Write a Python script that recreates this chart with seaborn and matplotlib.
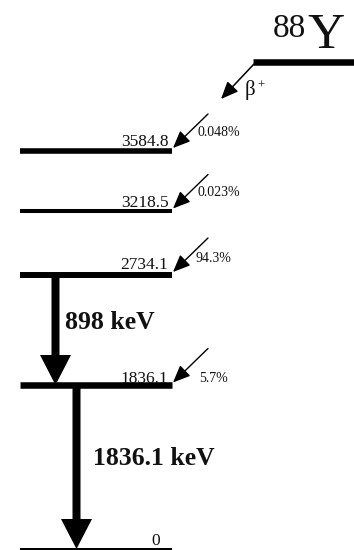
import matplotlib
matplotlib.use("Agg")
import matplotlib.pyplot as plt
import seaborn as sns
import pandas as pd

# ---- decay data: 88Y -> 88Sr (beta+/EC) ----
parent_mass = "88"
parent_symbol = "Y"
decay_mode = "β"
level_energy = [3584.8, 3218.5, 2734.1, 1836.1, 0.0]
level_labels = ["3584.8", "3218.5", "2734.1", "1836.1", "0"]
feed_percent = [0.048, 0.023, 94.3, 5.7]
feed_labels = ["0.048%", "0.023%", "94.3%", "5.7%"]
gamma_from = [2734.1, 1836.1]
gamma_to = [1836.1, 0.0]
gamma_labels = ["898 keV", "1836.1 keV"]

# ---- schematic layout (canvas units, y grows downward) ----
W, H = 354, 550
level_y = [150.5, 211, 274.5, 385, 549]
level_lw = [4.0, 2.9, 4.3, 4.7, 1.45]
level_x0, level_x1 = 20, 172
label_x = [169, 169, 168, 168, 160]
label_base = [145.5, 207, 269, 383, 545]
pct_x = [197, 197, 196, 199]
pct_y = [133, 192, 258, 378]
gamma_x = [55.5, 76.5]
gamma_text_xy = [(65, 329), (93, 465)]

sns.set_theme(style="white")
plt.rcParams["font.family"] = ["Liberation Serif", "DejaVu Serif"]

fig = plt.figure(figsize=(W / 100, H / 100), dpi=100)
ax = fig.add_axes([0, 0, 1, 1])
ax.set_xlim(0, W)
ax.set_ylim(H, 0)
ax.axis("off")

ypos = dict(zip(level_energy, level_y))

# energy levels of the daughter
levels = pd.DataFrame({"energy": level_energy, "y": level_y, "lw": level_lw})
for _, row in levels.iterrows():
    sns.lineplot(x=[level_x0, level_x1], y=[row["y"], row["y"]], ax=ax,
                 color="black", linewidth=row["lw"], solid_capstyle="butt",
                 legend=False)

for lab, x, yb in zip(level_labels, label_x, label_base):
    ax.text(x, yb, lab, ha="right", va="baseline", fontsize=12.5, color="#111111")

# parent level
sns.lineplot(x=[253, W], y=[61.5, 61.5], ax=ax, color="black", linewidth=4.7,
             solid_capstyle="butt", legend=False)
ax.text(273, 37, parent_mass, ha="left", va="baseline", fontsize=24, color="#111111")
ax.text(307, 48, parent_symbol, ha="left", va="baseline", fontsize=37, color="#111111")

# main beta branch
ax.annotate("", xy=(221, 99), xytext=(254, 64),
            arrowprops=dict(arrowstyle="-|>,head_length=0.75,head_width=0.32",
                            lw=1.1, color="black", mutation_scale=14,
                            shrinkA=0, shrinkB=0))
ax.text(245, 95, decay_mode, ha="left", va="baseline", fontsize=15, color="#111111")
ax.text(257.5, 89, "+", ha="left", va="baseline", fontsize=9, color="#111111")

# feeding branches to each excited level
for e, lab, px, py in zip(level_energy[:4], feed_labels, pct_x, pct_y):
    y = ypos[e]
    ax.annotate("", xy=(173, y - 2.5), xytext=(208, y - 36.5),
                arrowprops=dict(arrowstyle="-|>,head_length=0.75,head_width=0.32",
                                lw=1.0, color="black", mutation_scale=14,
                                shrinkA=0, shrinkB=0))
    ax.text(px, py, lab, ha="left", va="center", fontsize=10, color="#111111")

# gamma transitions
for e0, e1, gx, lab, (tx, ty) in zip(gamma_from, gamma_to, gamma_x,
                                     gamma_labels, gamma_text_xy):
    y0 = ypos[e0] + 2.5
    y1 = ypos[e1]
    ax.arrow(gx, y0, 0, y1 - y0, width=8, head_width=31, head_length=30,
             length_includes_head=True, color="black", lw=0)
    ax.text(tx, ty, lab, ha="left", va="baseline", fontsize=18.5,
            fontweight="bold", color="#111111")

fig.savefig("out.png", dpi=100)
